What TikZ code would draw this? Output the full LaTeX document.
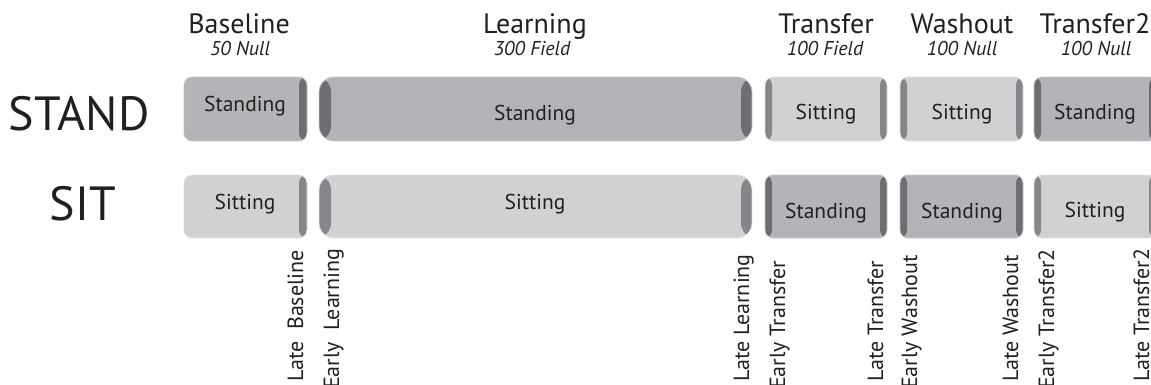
\documentclass[tikz,border=0pt]{standalone}
\usepackage{fontspec}
\setmainfont{PT Sans}
\definecolor{ink}{HTML}{231F20}
\definecolor{standc}{HTML}{B4B4B8}
\definecolor{standdk}{HTML}{6E6E72}
\definecolor{standedge}{HTML}{C8C8CB}
\definecolor{sitc}{HTML}{D1D1D3}
\definecolor{sitdk}{HTML}{85858A}
\definecolor{sitedge}{HTML}{E4E4E6}
\tikzset{
  phase/.style={rounded corners=8pt, inner sep=0pt, minimum height=64pt, line width=0.8pt},
  standbox/.style 2 args={phase, fill=standc, draw=standedge, path picture={
      \fill[standdk] (path picture bounding box.south west) rectangle ([xshift=#1]path picture bounding box.north west);
      \fill[standdk] (path picture bounding box.south east) rectangle ([xshift=-#2]path picture bounding box.north east);}},
  sitbox/.style 2 args={phase, fill=sitc, draw=sitedge, path picture={
      \fill[sitdk] (path picture bounding box.south west) rectangle ([xshift=#1]path picture bounding box.north west);
      \fill[sitdk] (path picture bounding box.south east) rectangle ([xshift=-#2]path picture bounding box.north east);}},
  head/.style={text=ink, anchor=base, inner sep=0pt, font=\fontsize{28}{30}\selectfont},
  sub/.style={text=ink, anchor=base, inner sep=0pt, font=\fontsize{20}{22}\selectfont\itshape},
  lab/.style={text=ink, anchor=base, inner sep=0pt, font=\fontsize{21.5}{23}\selectfont},
  side/.style={text=ink, anchor=base, inner sep=0pt, font=\fontsize{48}{50}\selectfont},
  epoch/.style={text=ink, anchor=base west, inner sep=0pt, rotate=90, font=\fontsize{22}{24}\selectfont},
}
\begin{document}
\begin{tikzpicture}[x=1pt, y=-1pt]
\useasboundingbox (0,0) rectangle (1151,384);
\clip (0,0) rectangle (1151,384);

% phase headers
\node[head] (hB) at (239,33) {Baseline};
\node[sub]  (sB) at (240,55) {50 Null};
\node[head] (hL) at (535,33) {Learning};
\node[sub]  (sL) at (532,55) {300 Field};
\node[head] (hT) at (826,33) {Transfer};
\node[sub]  (sT) at (825,55) {100 Field};
\node[head] (hW) at (962,33) {Washout};
\node[sub]  (sW) at (962,55) {100 Null};
\node[head] (hT2) at (1095,33) {Transfer2};
\node[sub]  (sT2) at (1096,55) {100 Null};

% row titles
\node[side] (stand) at (79,130) {STAND};
\node[side] (sit) at (83,220) {SIT};

% STAND row
\node[standbox={0pt}{8pt}, minimum width=123pt] (aB) at (245.5,109) {};
\node[standbox={12pt}{11pt}, minimum width=433pt, rounded corners=15pt] (aL) at (535.5,109) {};
\node[sitbox={7pt}{7pt}, minimum width=122pt] (aT) at (826,109) {};
\node[sitbox={7pt}{7pt}, minimum width=123pt] (aW) at (961.5,109) {};
\node[standbox={7pt}{8pt}, minimum width=123pt] (aT2) at (1095.5,109) {};
\node[lab] at (245,111) {Standing};
\node[lab] at (535,120) {Standing};
\node[lab] at (826,119) {Sitting};
\node[lab] at (962,119) {Sitting};
\node[lab] at (1095,119) {Standing};

% SIT row
\node[sitbox={0pt}{8pt}, minimum width=123pt, minimum height=63pt] (bB) at (245.5,206.5) {};
\node[sitbox={12pt}{11pt}, minimum width=433pt, minimum height=63pt, rounded corners=15pt] (bL) at (535.5,206.5) {};
\node[standbox={7pt}{7pt}, minimum width=122pt, minimum height=63pt] (bT) at (826,206.5) {};
\node[standbox={7pt}{7pt}, minimum width=123pt, minimum height=63pt] (bW) at (961.5,206.5) {};
\node[sitbox={7pt}{8pt}, minimum width=123pt, minimum height=63pt] (bT2) at (1095.5,206.5) {};
\node[lab] at (245,209) {Sitting};
\node[lab] at (535,209) {Sitting};
\node[lab] at (826,218) {Standing};
\node[lab] at (962,218) {Standing};
\node[lab] at (1095,217) {Sitting};

% epoch markers
\node[epoch] (m1) at (303,382) {Late\ \ Baseline};
\node[epoch] (m2) at (339,389) {Early\ \ Learning};
\node[epoch] (m3) at (749,382) {Late Learning};
\node[epoch] (m4) at (785,389) {Early Transfer};
\node[epoch] (m5) at (883,382) {Late Transfer};
\node[epoch] (m6) at (917,389) {Early Washout};
\node[epoch] (m7) at (1018,382) {Late Washout};
\node[epoch] (m8) at (1054,389) {Early Transfer2};
\node[epoch] (m9) at (1149,382) {Late Transfer2};
\end{tikzpicture}
\end{document}
